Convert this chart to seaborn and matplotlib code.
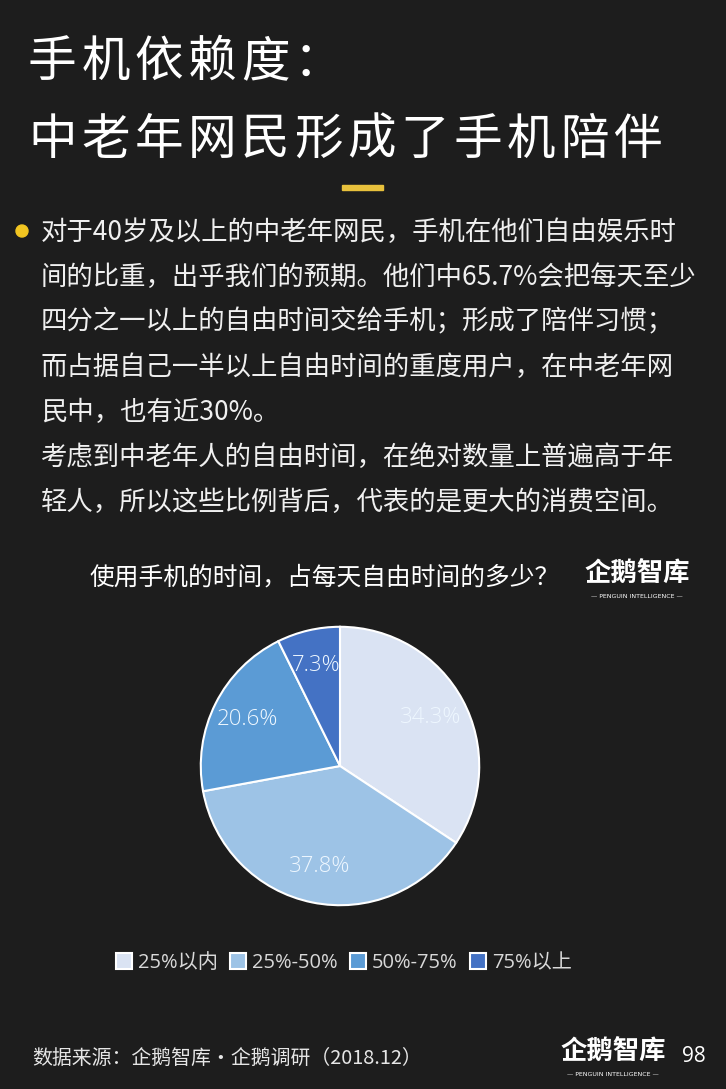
import matplotlib
matplotlib.use("Agg")
import matplotlib.pyplot as plt
import seaborn as sns

# data
categories = ["25%以内", "25%-50%", "50%-75%", "75%以上"]
shares = [34.3, 37.8, 20.6, 7.3]
colors = ["#dae3f3", "#9dc3e6", "#5b9bd5", "#4472c4"]

title_lines = ["手机依赖度：", "中老年网民形成了手机陪伴"]
body_lines = [
    "对于40岁及以上的中老年网民，手机在他们自由娱乐时",
    "间的比重，出乎我们的预期。他们中65.7%会把每天至少",
    "四分之一以上的自由时间交给手机；形成了陪伴习惯；",
    "而占据自己一半以上自由时间的重度用户，在中老年网",
    "民中，也有近30%。",
    "考虑到中老年人的自由时间，在绝对数量上普遍高于年",
    "轻人，所以这些比例背后，代表的是更大的消费空间。",
]
chart_title = "使用手机的时间，占每天自由时间的多少？"
source = "数据来源：企鹅智库·企鹅调研（2018.12）"
page_no = "98"

sns.set_theme(style="dark")
plt.rcParams['font.family'] = ['Noto Sans CJK SC', 'DejaVu Sans']

bg = "#1d1d1d"
W, H = 726, 1089
fig = plt.figure(figsize=(W / 100, H / 100), dpi=100, facecolor=bg)

def fx(x):
    return x / W

def fy(y):
    return 1 - y / H

# title, drawn char by char for the wide letter spacing
step = 53.2
for row, (line, y) in enumerate(zip(title_lines, [62, 140])):
    for k, ch in enumerate(line):
        fig.text(fx(28 + k * step), fy(y), ch, fontsize=35, color="white",
                 va="center", ha="left", fontweight="light")
fig.patches.append(plt.Rectangle((fx(342), fy(190)), fx(41), 5 / H,
                                 transform=fig.transFigure, color="#e8c13c"))

# bullet + body
fig.patches.append(matplotlib.patches.Ellipse((fx(22), fy(231)), 12 / W, 12 / H,
                                              transform=fig.transFigure, color="#f2c521"))
for i, line in enumerate(body_lines):
    fig.text(fx(41), fy(232 + i * 45), line, fontsize=19, color="#f0f0f0",
             va="center", ha="left", fontweight="light")

# chart title + logo
fig.text(fx(90), fy(578), chart_title, fontsize=17.8, color="white", va="center", ha="left")
fig.text(fx(637), fy(574), "企鹅智库", fontsize=19, color="white", va="center",
         ha="center", fontweight="bold")
fig.text(fx(637), fy(597), "— PENGUIN INTELLIGENCE —", fontsize=4.5, color="white",
         va="center", ha="center", family="DejaVu Sans")

# pie
cx, cy, r = 340, 766, 142
ax = fig.add_axes([fx(cx - r), fy(cy + r), 2 * r / W, 2 * r / H])
ax.set_facecolor(bg)
wedges, texts, autotexts = ax.pie(
    shares, colors=colors, startangle=90, counterclock=False,
    autopct="%.1f%%", pctdistance=0.74,
    wedgeprops=dict(edgecolor="white", linewidth=1.5),
    textprops=dict(color="#eef7ff", fontsize=16, fontweight="light",
                   family=["Open Sans", "DejaVu Sans"]))
ax.set_xlim(-1.02, 1.02)
ax.set_ylim(-1.02, 1.02)
ax.axis("off")

leg = fig.legend(wedges, categories, loc="center", bbox_to_anchor=(fx(344), fy(963)),
                 ncol=4, frameon=False, handlelength=0.8, handleheight=0.8,
                 handletextpad=0.3, columnspacing=0.6,
                 prop=dict(family=["Open Sans", "Noto Sans CJK SC"], size=14.5))
for t in leg.get_texts():
    t.set_color("#d9d9d9")

# footer
fig.text(fx(32), fy(1058), source, fontsize=14.3, color="#e6e6e6", va="center", ha="left")
fig.text(fx(613), fy(1052), "企鹅智库", fontsize=19, color="white", va="center",
         ha="center", fontweight="bold")
fig.text(fx(613), fy(1074), "— PENGUIN INTELLIGENCE —", fontsize=4.5, color="white",
         va="center", ha="center", family="DejaVu Sans")
fig.text(fx(694), fy(1056), page_no, fontsize=15, color="white", va="center", ha="center",
         family="Open Sans")

fig.savefig("out.png", dpi=100, facecolor=bg)
